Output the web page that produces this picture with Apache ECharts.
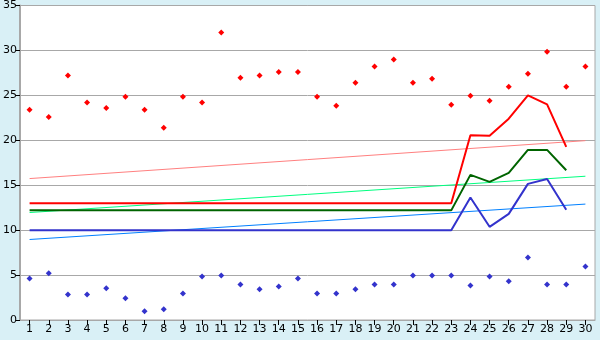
<!DOCTYPE html>
<html>
<head>
<meta charset="utf-8">
<script src="https://cdn.jsdelivr.net/npm/echarts@6/dist/echarts.min.js"></script>
<style>
  html, body { margin: 0; padding: 0; background: #d9f0f6; }
  #chart { width: 600px; height: 340px; }
</style>
</head>
<body>
<div id="chart"></div>
<script>
const categories = Array.from({ length: 30 }, (_, i) => String(i + 1));

// scatter points
const redDots = [23.4, 22.6, 27.2, 24.2, 23.6, 24.85, 23.4, 21.4, 24.85, 24.2,
  32.0, 26.95, 27.2, 27.6, 27.6, 24.85, 23.85, 26.4, 28.2, 29.0,
  26.4, 26.85, 23.95, 24.95, 24.4, 25.95, 27.4, 29.85, 25.95, 28.2];
const blueDots = [4.63, 5.19, 2.85, 2.85, 3.52, 2.41, 0.96, 1.19, 2.96, 4.85,
  4.96, 3.96, 3.41, 3.74, 4.63, 2.96, 2.96, 3.41, 3.96, 3.96,
  4.96, 4.96, 4.96, 3.85, 4.85, 4.3, 6.96, 3.96, 3.96, 5.96];

// thick lines
const redLine = [13, 13, 13, 13, 13, 13, 13, 13, 13, 13, 13, 13, 13, 13, 13,
  13, 13, 13, 13, 13, 13, 13, 13, 20.55, 20.5, 22.4, 25.0, 24.0, 19.26, null];
const greenLine = [12.2, 12.2, 12.2, 12.2, 12.2, 12.2, 12.2, 12.2, 12.2, 12.2,
  12.2, 12.2, 12.2, 12.2, 12.2, 12.2, 12.2, 12.2, 12.2, 12.2,
  12.2, 12.2, 12.2, 16.15, 15.37, 16.37, 18.93, 18.93, 16.67, null];
const blueLine = [10, 10, 10, 10, 10, 10, 10, 10, 10, 10, 10, 10, 10, 10, 10,
  10, 10, 10, 10, 10, 10, 10, 10, 13.63, 10.37, 11.81, 15.15, 15.7, 12.26, null];

// trend lines: start and end values only
const pinkTrend = [15.74, 19.96];
const greenTrend = [11.96, 16.0];
const blueTrend = [8.96, 12.9];

const yTicks = [0, 5, 10, 15, 20, 25, 30, 35];

function trendData(ends) {
  const d = new Array(categories.length).fill(null);
  d[0] = ends[0];
  d[d.length - 1] = ends[1];
  return d;
}

const chart = echarts.init(document.getElementById('chart'), null, { renderer: 'canvas' });

const font = 'DejaVu Sans';

const lineSeries = (data, color, width) => ({
  type: 'line',
  data: data,
  symbol: 'none',
  connectNulls: true,
  lineStyle: { color: color, width: width },
  z: width > 1 ? 3 : 2
});

const dotSeries = (data, color) => ({
  type: 'line',
  data: data,
  symbol: 'diamond',
  symbolSize: 6,
  showSymbol: true,
  lineStyle: { width: 0, opacity: 0 },
  itemStyle: { color: color },
  z: 4
});

chart.setOption({
  animation: false,
  backgroundColor: '#d9f0f6',
  grid: {
    left: 20, right: 5, top: 5, bottom: 20,
    show: true,
    backgroundColor: '#ffffff',
    borderColor: '#a8a8a8',
    borderWidth: 1
  },
  xAxis: {
    type: 'category',
    data: categories,
    boundaryGap: true,
    axisLine: { show: true, lineStyle: { color: '#a8a8a8', width: 1 } },
    axisTick: { show: true, alignWithLabel: true, length: 5, lineStyle: { color: '#000' } },
    axisLabel: { color: '#000', fontFamily: font, fontSize: 11, margin: 4, interval: 0 },
    splitLine: { show: false }
  },
  yAxis: {
    type: 'value',
    min: 0,
    max: 35,
    interval: 5,
    axisLine: { show: true, lineStyle: { color: '#a8a8a8', width: 2 } },
    axisTick: { show: true, length: 4, lineStyle: { color: '#000' } },
    axisLabel: {
      color: '#000', fontFamily: font, fontSize: 11, margin: 3,
      formatter: v => (yTicks.includes(v) ? String(v) : '')
    },
    splitLine: { show: true, lineStyle: { color: '#a8a8a8', width: 1 } }
  },
  series: [
    lineSeries(trendData(pinkTrend), '#ff8080', 1),
    lineSeries(trendData(greenTrend), '#00ff80', 1),
    lineSeries(trendData(blueTrend), '#0080ff', 1),
    lineSeries(blueLine, '#3333cc', 2),
    lineSeries(greenLine, '#006400', 2),
    lineSeries(redLine, '#ff0000', 2),
    dotSeries(redDots, '#ff0000'),
    dotSeries(blueDots, '#3333cc')
  ]
});
</script>
</body>
</html>
